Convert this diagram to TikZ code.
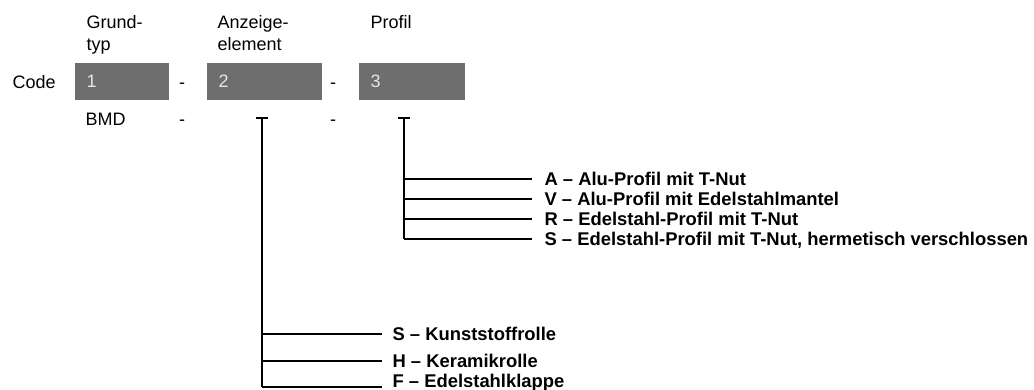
\documentclass[tikz,border=0pt]{standalone}
\usepackage{fontspec}
\setmainfont{Liberation Sans}
\definecolor{boxgray}{HTML}{6E6E6E}
\definecolor{boxtext}{HTML}{E6E6E6}
\tikzset{
  plain/.style={inner sep=0pt, font=\fontsize{13.5}{16.5}\selectfont},
  codebox/.style={fill=boxgray, text=boxtext, anchor=north west, inner xsep=9pt,
    inner ysep=0pt, minimum height=27.75pt, text width=#1, align=left,
    font=\fontsize{13.5}{16.5}\selectfont},
  choice/.style={inner sep=0pt, anchor=base west, font=\fontsize{13.8}{16}\selectfont\bfseries},
  tick/.style={line width=0.9pt, line cap=butt}
}

\begin{document}
\begin{tikzpicture}[x=0.75pt, y=-0.75pt, line width=0.9pt]
  \useasboundingbox (0,0) rectangle (1034,389);
  % headings
  \node[plain, anchor=base west] (hgrund) at (86,28) {Grund-};
  \node[plain, anchor=base west] (hgrund2) at (86,50) {typ};
  \node[plain, anchor=base west] (hanz) at (217,28) {Anzeige-};
  \node[plain, anchor=base west] (hanz2) at (217,50) {element};
  \node[plain, anchor=base west] (hprof) at (370,28) {Profil};
  % code row
  \node[plain, anchor=base west] (code) at (12,88) {Code};
  \node[codebox=52.5pt] (box1) at (74,62) {1};
  \node[plain, anchor=base] (dash1) at (182,88) {-};
  \node[codebox=68.25pt] (box2) at (206,62) {2};
  \node[plain, anchor=base] (dash2) at (333,88) {-};
  \node[codebox=61.5pt] (box3) at (358,62) {3};
  % second row
  \node[plain, anchor=base west] (bmd) at (85,125) {BMD};
  \node[plain, anchor=base] (dash3) at (182,125) {-};
  \node[plain, anchor=base] (dash4) at (333,125) {-};
  % Anzeigeelement
  \coordinate (topA) at (262,118);
  \coordinate (jA1) at (262,334);
  \coordinate (jA2) at (262,361);
  \coordinate (jA3) at (262,387);
  \node[choice] (optS) at (392,340.5) {S – Kunststoffrolle};
  \node[choice] (optH) at (392,367.5) {H – Keramikrolle};
  \node[choice] (optF) at (392,387) {F – Edelstahlklappe};
  \draw[tick] ([xshift=-4.5]topA) -- ([xshift=4.5]topA);
  \draw (topA) -- (jA3);
  \draw (jA1) -- ([xshift=-7.5]jA1 -| optS.west);
  \draw (jA2) -- ([xshift=-7.5]jA2 -| optH.west);
  \draw (jA3) -- ([xshift=-7.5]jA3 -| optF.west);
  % Profil
  \coordinate (topP) at (404,118);
  \coordinate (jP1) at (404,179);
  \coordinate (jP2) at (404,199);
  \coordinate (jP3) at (404,219);
  \coordinate (jP4) at (404,239);
  \node[choice] (optA) at (544,185.5) {A – Alu-Profil mit T-Nut};
  \node[choice] (optV) at (544,205.5) {V – Alu-Profil mit Edelstahlmantel};
  \node[choice] (optR) at (544,225.5) {R – Edelstahl-Profil mit T-Nut};
  \node[choice] (optSP) at (544,245.5) {S – Edelstahl-Profil mit T-Nut, hermetisch verschlossen};
  \draw[tick] ([xshift=-4.5]topP) -- ([xshift=4.5]topP);
  \draw (topP) -- (jP4);
  \draw (jP1) -- ([xshift=-9]jP1 -| optA.west);
  \draw (jP2) -- ([xshift=-9]jP2 -| optV.west);
  \draw (jP3) -- ([xshift=-9]jP3 -| optR.west);
  \draw (jP4) -- ([xshift=-9]jP4 -| optSP.west);
\end{tikzpicture}
\end{document}
